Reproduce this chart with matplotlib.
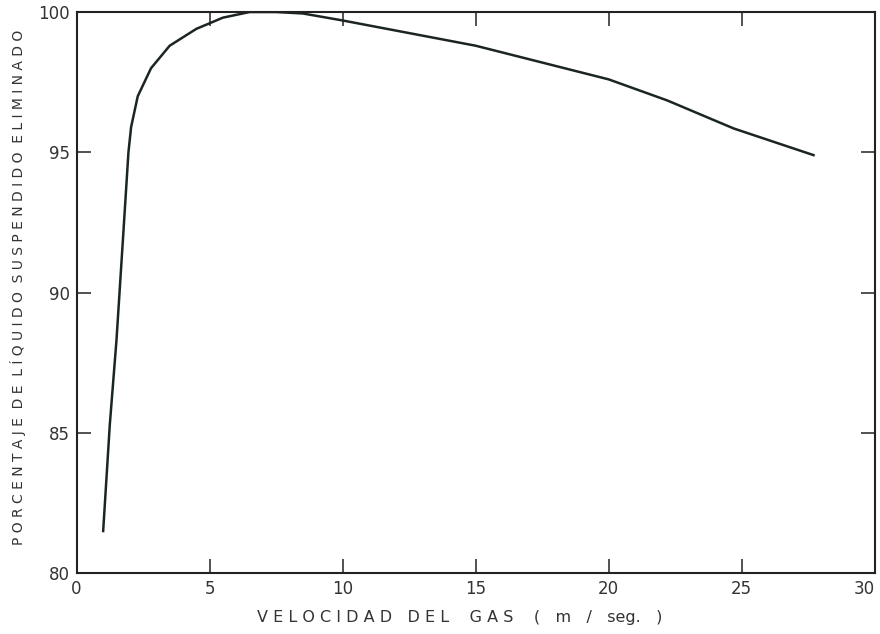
import matplotlib.pyplot as plt

# velocidad del gas (m/seg) vs. porcentaje eliminado
velocidad = [1.0, 1.25, 1.5, 1.75, 1.95, 2.05, 2.3, 2.8, 3.5, 4.5, 5.5, 6.5, 7.5,
             8.5, 10.0, 12.5, 15.0, 17.5, 20.0, 22.2, 24.7, 27.7]
porcentaje = [81.5, 85.3, 88.3, 92.0, 95.0, 95.9, 97.0, 98.0, 98.8, 99.4, 99.8, 100.0, 100.0,
              99.95, 99.7, 99.25, 98.8, 98.2, 97.6, 96.85, 95.85, 94.9]

x_ticks = [0, 5, 10, 15, 20, 25, 30]
y_ticks = [80, 85, 90, 95, 100]


def spaced(text):
    return " ".join(text)


fig = plt.figure(figsize=(8.8, 6.34), dpi=100)
ax = fig.add_axes([0.087, 0.096, 0.907, 0.885])

ax.plot(velocidad, porcentaje, color="#1c2620", linewidth=1.8, solid_joinstyle="round")

ax.set_xlim(0, 30)
ax.set_ylim(80, 100)
ax.set_xticks(x_ticks)
ax.set_yticks(y_ticks)
ax.tick_params(direction="in", length=10, width=1.2, top=True, right=True,
               labelsize=12, colors="#333333", pad=5)
ax.get_xticklabels()[-1].set_ha("right")
for spine in ax.spines.values():
    spine.set_linewidth(1.5)
    spine.set_color("#222222")

xlabel = (spaced("VELOCIDAD") + "   " + spaced("DEL") + "    " + spaced("GAS")
          + "    (   m   /   seg.   )")
ax.set_xlabel(xlabel, fontsize=11.5, color="#333333")
ax.xaxis.set_label_coords(0.48, -0.066)

ylabel = "  ".join(spaced(w) for w in "PORCENTAJE DE LÍQUIDO SUSPENDIDO ELIMINADO".split())
ax.set_ylabel(ylabel, fontsize=10, color="#333333")
ax.yaxis.set_label_coords(-0.063, 0.51)

fig.savefig("out.png", dpi=100)
